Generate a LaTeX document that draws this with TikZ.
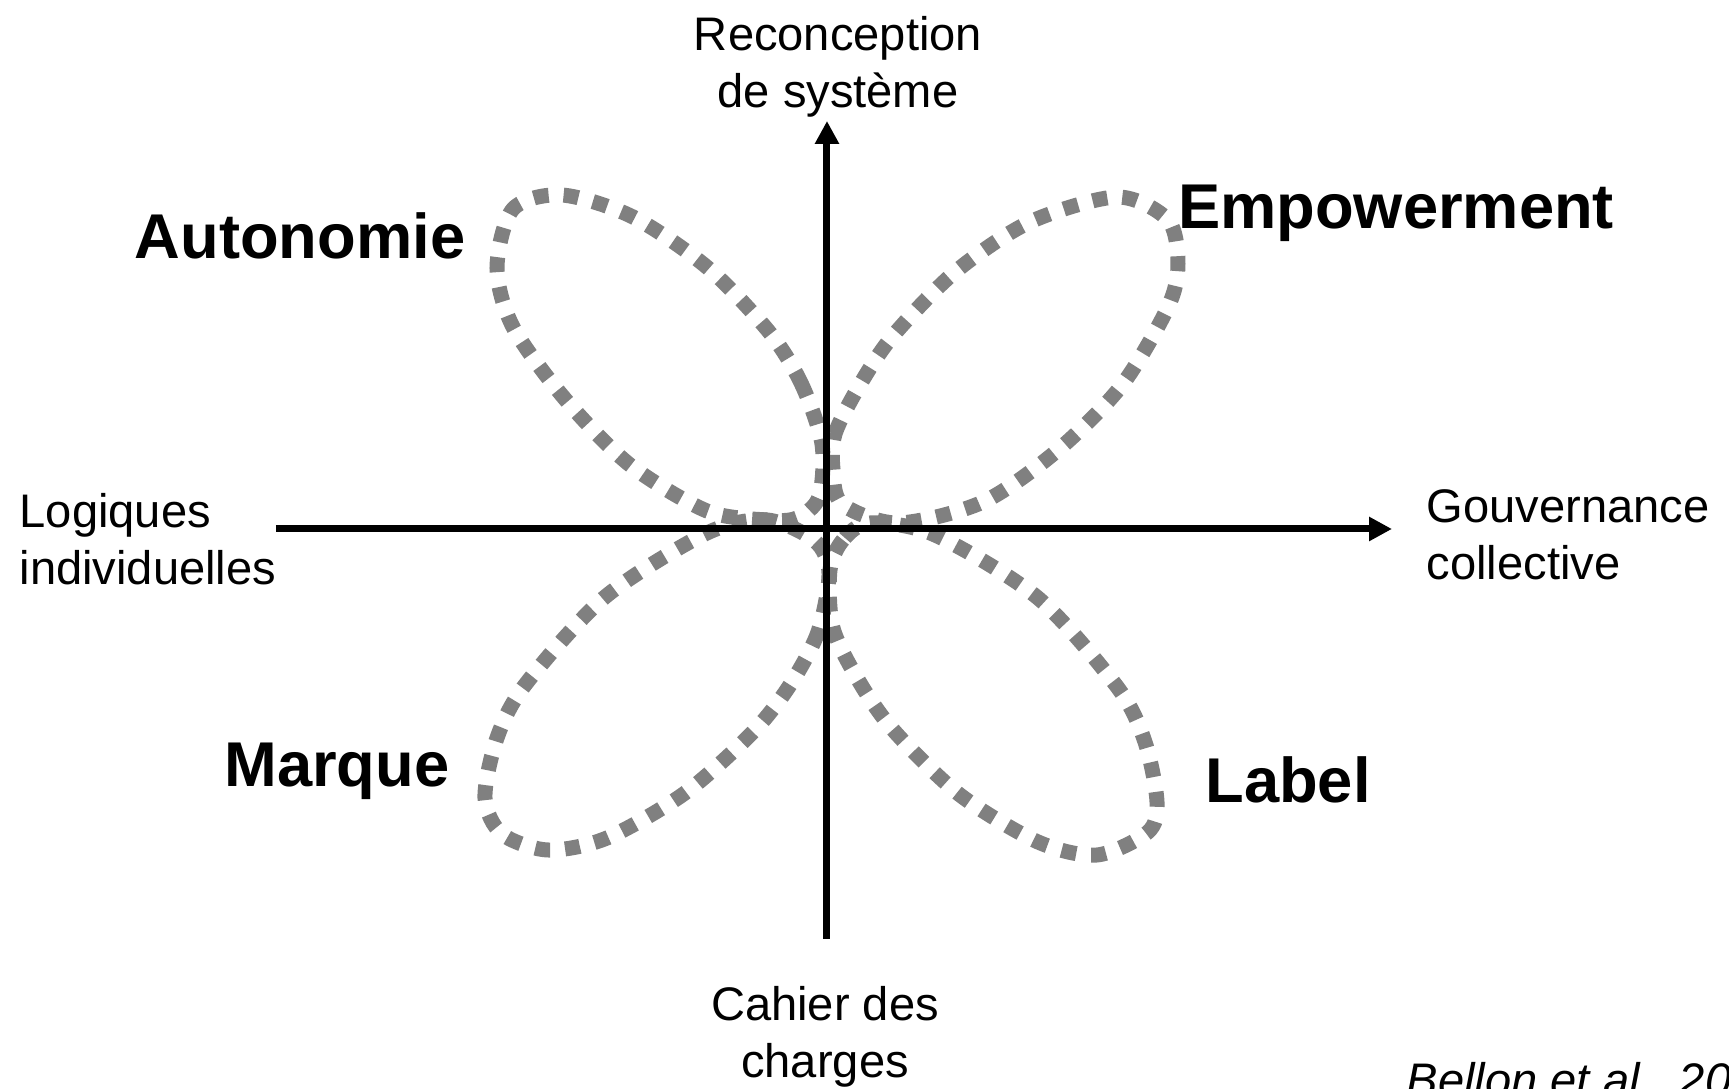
\documentclass[tikz,border=0pt]{standalone}
\usepackage{fontspec}
\setmainfont{Liberation Sans}
\usepackage{tikz}
\usetikzlibrary{arrows.meta}

\tikzset{
  petal/.style={gray, line width=1.5mm, dash pattern=on 1.5mm off 1.5mm},
  axis/.style={line width=0.7mm, -{Triangle[length=2.3mm,width=2.3mm]}},
  axlabel/.style={inner sep=0pt, font=\fontsize{13.4}{16.2}\selectfont},
  quadlabel/.style={inner sep=0pt, anchor=base, font=\bfseries\fontsize{18}{21.6}\selectfont}
}

\begin{document}
\begin{tikzpicture}[scale=1]
            \path[use as bounding box, fill=white] (-8.27,-5.60) rectangle (9.02,5.29);

            \coordinate (o) at (0, 0);
            \coordinate (indiv) at (-5.51, 0);
            \coordinate (collect) at (5.65, 0);
            \coordinate (charges) at (0, -4.10);
            \coordinate (reconc) at (0, 4.08);

            % petals
            \draw [petal] plot [smooth cycle] coordinates {(-0.05,0.85) (-0.25,1.44) (-0.57,1.96) (-1.19,2.61) (-1.94,3.12) (-2.65,3.34) (-3.14,3.20) (-3.30,2.61) (-3.14,2.02) (-2.62,1.30) (-1.97,0.64) (-1.20,0.18) (-0.60,0.09) (-0.30,0.11) (-0.08,0.32)};
            \draw [petal] plot [smooth cycle] coordinates {(0.06,0.60) (0.08,0.95) (0.31,1.41) (0.65,1.92) (1.28,2.57) (2.03,3.07) (2.90,3.32) (3.41,3.09) (3.51,2.65) (3.41,2.22) (2.95,1.44) (2.31,0.79) (1.56,0.27) (0.71,0.06) (0.15,0.25)};
            \draw [petal] plot [smooth cycle] coordinates {(0.02,-0.44) (-0.09,-1.03) (-0.37,-1.56) (-0.74,-2.03) (-1.42,-2.64) (-2.20,-3.09) (-2.79,-3.21) (-3.25,-3.05) (-3.42,-2.69) (-3.30,-2.09) (-3.02,-1.56) (-2.22,-0.68) (-1.20,-0.04) (-0.60,0.09) (-0.12,-0.12)};
            \draw [petal] plot [smooth cycle] coordinates {(0.43,0.06) (0.16,-0.11) (0.03,-0.41) (0.06,-0.99) (0.33,-1.54) (0.68,-2.03) (1.33,-2.66) (2.11,-3.13) (2.70,-3.26) (3.21,-3.03) (3.30,-2.73) (3.18,-2.13) (2.91,-1.59) (2.11,-0.69) (1.08,-0.06)};

            % axes
            \draw [axis] (indiv) -- (collect);
            \draw [axis] (charges) -- (reconc);

            \node (treconc) [axlabel, align=center] at (0.11, 4.62) {Reconception\\de système};
            \node (tcharges) [axlabel, align=center] at (-0.02, -5.08) {Cahier des\\charges};
            \node (tindiv) [axlabel, align=left, anchor=west] at (-8.08, -0.10) {Logiques\\individuelles};
            \node (tcollect) [axlabel, align=left, anchor=west] at (5.99, -0.06) {Gouvernance\\collective};

            \node (autonomie) [quadlabel] at (-5.27, 2.70) {Autonomie};
            \node (empowerment) [quadlabel] at (5.69, 3.00) {Empowerment};
            \node (marque) [quadlabel] at (-4.90, -2.58) {Marque};
            \node (label) [quadlabel] at (4.61, -2.74) {Label};

            \node (source) [axlabel, anchor=base west, font=\itshape\fontsize{13.4}{16.2}\selectfont] at (5.79, -5.68) {Bellon et al., 2011};

            \end{tikzpicture}
\end{document}
